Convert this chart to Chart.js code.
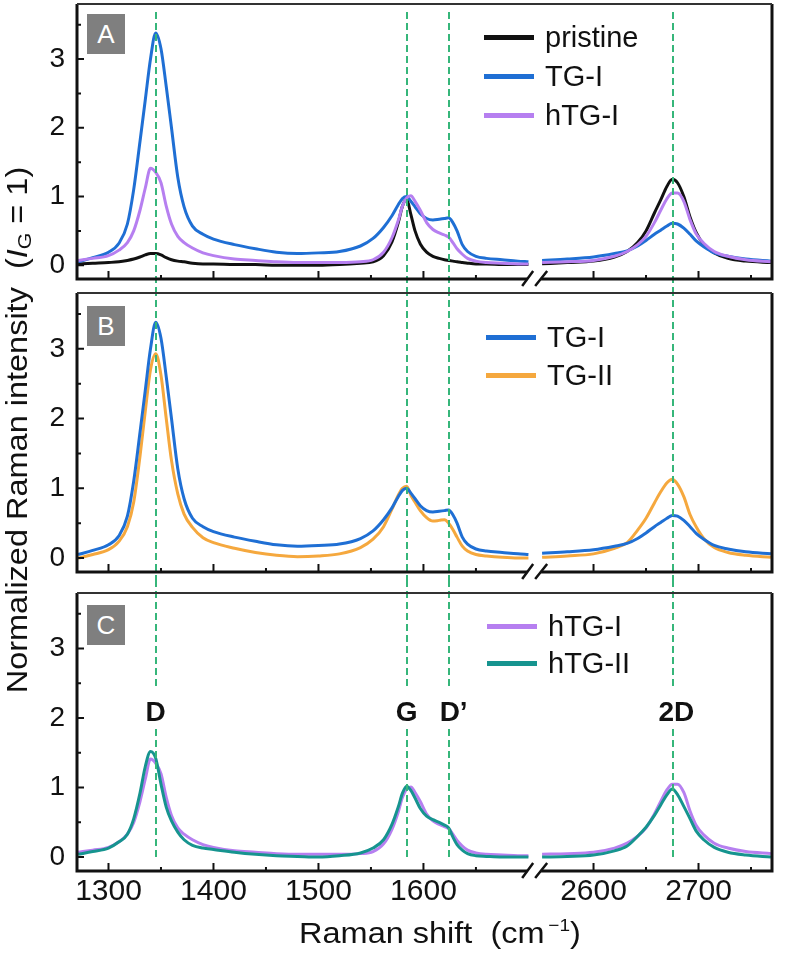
<!DOCTYPE html>
<html>
<head>
<meta charset="utf-8">
<title>Raman spectra</title>
<script src="https://cdn.jsdelivr.net/npm/chart.js@4.4.1/dist/chart.umd.min.js"></script>
<style>
  html, body { margin: 0; padding: 0; background: #fff; overflow: hidden; }
  #wrap { position: relative; width: 785px; height: 955px; font-family: "Liberation Sans", Arial, sans-serif; color: #111; overflow: hidden; }
  #wrap canvas { position: absolute; left: 0; }
  .tag { position: absolute; left: 87px; width: 38px; height: 40px; background: #7f7f7f; color: #fff;
         font-size: 26px; line-height: 40px; text-align: center; z-index: 2; }
  .key { position: absolute; height: 40px; line-height: 40px; font-size: 29px; white-space: nowrap; z-index: 2; }
  .key i { position: absolute; left: 0; top: 18px; width: 50px; height: 5px; }
  .key span { position: absolute; left: 61px; top: 0; }
  .peak { position: absolute; width: 80px; margin-left: -40px; text-align: center; font-weight: bold;
          font-size: 28px; line-height: 28px; z-index: 2; }
  #ytitle { position: absolute; left: -283px; top: 413px; width: 600px; height: 34px; line-height: 34px;
            font-size: 29px; text-align: center; white-space: nowrap; transform: rotate(-90deg) scaleX(1.12); }
  #ytitle sub { font-size: 19px; vertical-align: -4px; }
  #xtitle { position: absolute; left: 240px; top: 916px; width: 400px; font-size: 29px; text-align: center;
            white-space: nowrap; transform: scaleX(1.12); }
  #xtitle sup { font-size: 17px; vertical-align: 12px; }
</style>
</head>
<body>
<div id="wrap">
  <canvas id="chartA" width="785" height="289" style="top:0px"></canvas>
  <canvas id="chartB" width="785" height="291" style="top:289px"></canvas>
  <canvas id="chartC" width="785" height="375" style="top:580px"></canvas>
  <div id="ytitle">Normalized Raman intensity&nbsp; (<i>I</i><sub>G</sub> = 1)</div>
  <div id="xtitle">Raman shift&nbsp; (cm<sup>&thinsp;&minus;1</sup>)</div>
</div>
<script>
// Raman shift sample positions (cm-1)
const xLeft = [1271, 1285, 1300, 1310, 1318, 1324, 1330, 1335, 1340, 1345, 1350, 1355, 1360, 1366, 1372, 1380,
               1390, 1400, 1420, 1440, 1460, 1480, 1500, 1520, 1540, 1552, 1562, 1570, 1576, 1580, 1584, 1588,
               1592, 1597, 1603, 1609, 1615, 1620, 1624, 1628, 1632, 1637, 1642, 1650, 1660, 1675, 1690, 1700];
const xRight = [2551, 2575, 2600, 2620, 2632, 2642, 2650, 2658, 2664, 2670, 2675, 2680, 2686, 2692, 2698, 2705,
                2715, 2728, 2745, 2769];

// normalized intensities (I_G = 1)
const pristineLeft = [0.02, 0.03, 0.04, 0.05, 0.07, 0.09, 0.12, 0.15, 0.17, 0.17, 0.15, 0.11, 0.08, 0.06, 0.05, 0.03,
                      0.02, 0.02, 0.01, 0.01, 0.00, 0.00, 0.00, 0.01, 0.03, 0.05, 0.14, 0.34, 0.62, 0.86, 0.96, 0.74,
                      0.50, 0.31, 0.19, 0.13, 0.10, 0.08, 0.07, 0.06, 0.05, 0.04, 0.03, 0.02, 0.02, 0.01, 0.01, 0.01];
const pristineRight = [0.02, 0.04, 0.06, 0.12, 0.20, 0.33, 0.50, 0.76, 0.95, 1.15, 1.25, 1.20, 1.00, 0.70, 0.47, 0.30,
                       0.18, 0.10, 0.06, 0.04];

const tg1Left = [0.05, 0.11, 0.19, 0.32, 0.60, 1.10, 1.80, 2.40, 3.00, 3.38, 3.15, 2.60, 2.00, 1.28, 0.85, 0.57,
                 0.45, 0.38, 0.30, 0.24, 0.19, 0.17, 0.18, 0.20, 0.28, 0.39, 0.55, 0.72, 0.88, 0.97, 1.00, 0.93,
                 0.85, 0.75, 0.68, 0.66, 0.67, 0.68, 0.69, 0.62, 0.50, 0.30, 0.20, 0.13, 0.10, 0.08, 0.06, 0.05];
const tg1Right = [0.07, 0.09, 0.12, 0.17, 0.21, 0.28, 0.36, 0.45, 0.51, 0.57, 0.61, 0.60, 0.54, 0.45, 0.35, 0.27,
                  0.18, 0.13, 0.09, 0.06];

const htg1Left = [0.07, 0.10, 0.14, 0.22, 0.33, 0.50, 0.80, 1.12, 1.41, 1.35, 1.20, 0.86, 0.60, 0.42, 0.33, 0.25,
                  0.18, 0.14, 0.09, 0.07, 0.05, 0.04, 0.04, 0.04, 0.05, 0.08, 0.19, 0.40, 0.65, 0.86, 0.98, 1.01,
                  0.93, 0.80, 0.62, 0.52, 0.47, 0.44, 0.41, 0.33, 0.24, 0.16, 0.10, 0.06, 0.04, 0.03, 0.02, 0.02];
const htg1Right = [0.04, 0.05, 0.07, 0.13, 0.20, 0.30, 0.42, 0.62, 0.80, 0.97, 1.05, 1.05, 0.93, 0.66, 0.45, 0.32,
                   0.20, 0.13, 0.08, 0.05];

const tg2Left = [0.00, 0.05, 0.12, 0.24, 0.45, 0.80, 1.46, 2.10, 2.70, 2.93, 2.62, 2.00, 1.40, 0.92, 0.63, 0.44,
                 0.29, 0.22, 0.14, 0.08, 0.04, 0.02, 0.03, 0.06, 0.15, 0.27, 0.45, 0.70, 0.90, 1.00, 1.03, 0.90,
                 0.80, 0.68, 0.58, 0.53, 0.54, 0.55, 0.50, 0.41, 0.30, 0.17, 0.10, 0.05, 0.03, 0.01, 0.00, 0.00];
const tg2Right = [0.01, 0.03, 0.06, 0.14, 0.22, 0.40, 0.57, 0.79, 0.95, 1.08, 1.13, 1.06, 0.88, 0.62, 0.44, 0.28,
                  0.15, 0.08, 0.04, 0.01];

const htg2Left = [0.04, 0.08, 0.13, 0.22, 0.33, 0.55, 0.92, 1.30, 1.52, 1.42, 1.05, 0.72, 0.52, 0.36, 0.25, 0.17,
                  0.13, 0.11, 0.07, 0.04, 0.02, 0.01, 0.00, 0.02, 0.06, 0.13, 0.25, 0.47, 0.72, 0.92, 1.02, 0.96,
                  0.85, 0.70, 0.59, 0.54, 0.50, 0.46, 0.42, 0.29, 0.18, 0.10, 0.05, 0.02, 0.01, 0.00, 0.00, 0.00];
const htg2Right = [0.00, 0.01, 0.03, 0.09, 0.16, 0.30, 0.43, 0.60, 0.75, 0.90, 0.98, 0.90, 0.73, 0.55, 0.37, 0.25,
                   0.14, 0.07, 0.03, 0.00];

// band positions and tick values
const peakNames = ['D', 'G', 'D\u2019', '2D'];
const peakShifts = [1345, 1584, 1624, 2676];
const xMajor = [1300, 1400, 1500, 1600, 2600, 2700];
const xMinor = [1350, 1450, 1550, 1650, 2650, 2750];
const yMajor = [0, 1, 2, 3];
const yMinor = [0.5, 1.5, 2.5, 3.5];

const seriesData = {
  'pristine': [pristineLeft, pristineRight],
  'TG-I': [tg1Left, tg1Right],
  'hTG-I': [htg1Left, htg1Right],
  'TG-II': [tg2Left, tg2Right],
  'hTG-II': [htg2Left, htg2Right]
};
const seriesColors = {
  'pristine': '#111111',
  'TG-I': '#1f6fd4',
  'hTG-I': '#b67ff0',
  'TG-II': '#f5a83e',
  'hTG-II': '#16948f'
};

// broken axis: the 2D window is slid left so both windows share one linear scale
const BREAK_SHIFT = 838;
const BREAK_AT = 1704.5;
const toAxis = v => v > 2000 ? v - BREAK_SHIFT : v;
const fromAxis = v => v > BREAK_AT ? v + BREAK_SHIFT : v;
const FONT = '"Liberation Sans", Arial, sans-serif';

function toPoints(name) {
  const [yl, yr] = seriesData[name];
  const pts = xLeft.map((x, i) => ({ x: x, y: yl[i] }));
  pts.push({ x: BREAK_AT, y: null });
  xRight.forEach((x, i) => pts.push({ x: toAxis(x), y: yr[i] }));
  return pts;
}

const framePlugin = {
  id: 'frame',
  afterDatasetsDraw(chart) {
    const { ctx, chartArea: a, scales: { x, y } } = chart;
    const opt = chart.options.plugins.frame;
    ctx.save();

    // dashed band markers
    ctx.strokeStyle = '#36b67a';
    ctx.lineWidth = 2;
    ctx.setLineDash([7, 4]);
    peakShifts.forEach(p => {
      const px = Math.round(x.getPixelForValue(toAxis(p)));
      ctx.beginPath();
      if (opt.gap) {
        ctx.moveTo(px, opt.lineTop); ctx.lineTo(px, opt.gap[0]);
        ctx.moveTo(px, opt.gap[1]); ctx.lineTo(px, opt.lineBottom);
      } else {
        ctx.moveTo(px, opt.lineTop); ctx.lineTo(px, opt.lineBottom);
      }
      ctx.stroke();
    });
    ctx.setLineDash([]);

    // box with the axis break
    const bp = x.getPixelForValue(BREAK_AT);
    ctx.strokeStyle = '#111';
    ctx.lineWidth = 3;
    ctx.beginPath();
    ctx.moveTo(a.left, a.top); ctx.lineTo(a.left, a.bottom); ctx.lineTo(bp - 6, a.bottom);
    ctx.moveTo(bp + 8, a.bottom); ctx.lineTo(a.right, a.bottom); ctx.lineTo(a.right, a.top);
    ctx.stroke();
    ctx.strokeStyle = '#333';
    ctx.lineWidth = 2;
    ctx.beginPath(); ctx.moveTo(a.left, a.top); ctx.lineTo(a.right, a.top); ctx.stroke();

    ctx.strokeStyle = '#111';
    ctx.lineWidth = 2.5;
    ctx.beginPath();
    ctx.moveTo(bp - 11, a.bottom + 7); ctx.lineTo(bp, a.bottom - 8);
    ctx.moveTo(bp + 2, a.bottom + 7); ctx.lineTo(bp + 14, a.bottom - 8);
    ctx.stroke();

    // inward ticks
    ctx.lineWidth = 2;
    ctx.beginPath();
    xMajor.forEach(v => { const px = x.getPixelForValue(toAxis(v)); ctx.moveTo(px, a.bottom); ctx.lineTo(px, a.bottom - 8); });
    xMinor.forEach(v => { const px = x.getPixelForValue(toAxis(v)); ctx.moveTo(px, a.bottom); ctx.lineTo(px, a.bottom - 4); });
    yMajor.forEach(v => { const py = y.getPixelForValue(v); ctx.moveTo(a.left, py); ctx.lineTo(a.left + 7, py); });
    yMinor.forEach(v => { const py = y.getPixelForValue(v); ctx.moveTo(a.left, py); ctx.lineTo(a.left + 4, py); });
    ctx.stroke();
    ctx.restore();
  }
};

// keep chart.js from reserving half a label of room at the axis ends
function noEdgePadding(s) {
  s.paddingTop = 0;
  s.paddingBottom = 0;
  s.paddingLeft = 0;
  s.paddingRight = 0;
}

function makePanel(p) {
  const canvas = document.getElementById(p.id);
  return new Chart(canvas, {
    type: 'line',
    data: {
      datasets: p.names.map(name => ({
        label: name,
        data: toPoints(name),
        borderColor: seriesColors[name],
        borderWidth: 3,
        pointRadius: 0,
        fill: false,
        cubicInterpolationMode: 'monotone',
        order: p.onTop.indexOf(name)
      }))
    },
    options: {
      responsive: false,
      animation: false,
      events: [],
      layout: { padding: { top: p.padTop, bottom: p.showX ? 0 : p.padBottom, left: 0, right: 13 } },
      plugins: {
        legend: { display: false },
        tooltip: { enabled: false },
        frame: { lineTop: p.lineTop, lineBottom: p.lineBottom, gap: p.gap }
      },
      scales: {
        x: {
          type: 'linear',
          display: p.showX,
          min: 1270,
          max: 1932,
          grid: { display: false, drawTicks: false },
          border: { display: false },
          afterBuildTicks: s => { s.ticks = xMajor.map(v => ({ value: toAxis(v) })); },
          afterFit: s => { s.height = p.padBottom; noEdgePadding(s); },
          ticks: {
            font: { family: FONT, size: 30 },
            color: '#111',
            padding: 3,
            maxRotation: 0,
            autoSkip: false,
            callback: v => String(fromAxis(v))
          }
        },
        y: {
          min: -0.2,
          max: 3.8,
          grid: { display: false, drawTicks: false },
          border: { display: false },
          afterBuildTicks: s => { s.ticks = yMajor.map(v => ({ value: v })); },
          afterFit: s => { s.width = 77; noEdgePadding(s); },
          ticks: {
            font: { family: FONT, size: 28 },
            color: '#111',
            padding: 12,
            callback: v => String(v)
          }
        }
      }
    },
    plugins: [framePlugin]
  });
}

const panels = [
  { id: 'chartA', tag: 'A', padTop: 4, padBottom: 5, showX: false, tagTop: 14,
    names: ['pristine', 'TG-I', 'hTG-I'], onTop: ['hTG-I', 'TG-I', 'pristine'],
    keyLeft: 484, keyRows: [37, 76, 115], lineTop: 12, lineBottom: 289 },
  { id: 'chartB', tag: 'B', padTop: 4, padBottom: 4, showX: false, tagTop: 306,
    names: ['TG-I', 'TG-II'], onTop: ['TG-I', 'TG-II'],
    keyLeft: 486, keyRows: [337, 375], lineTop: 0, lineBottom: 291 },
  { id: 'chartC', tag: 'C', padTop: 13, padBottom: 84, showX: true, tagTop: 605,
    names: ['hTG-I', 'hTG-II'], onTop: ['hTG-II', 'hTG-I'],
    keyLeft: 487, keyRows: [626, 663], lineTop: 0, lineBottom: 277, gap: [107, 149] }
];

const wrap = document.getElementById('wrap');
const charts = panels.map(p => {
  const chart = makePanel(p);

  const tag = document.createElement('div');
  tag.className = 'tag';
  tag.style.top = p.tagTop + 'px';
  tag.textContent = p.tag;
  wrap.appendChild(tag);

  p.names.forEach((name, i) => {
    const row = document.createElement('div');
    row.className = 'key';
    row.style.left = p.keyLeft + 'px';
    row.style.top = (p.keyRows[i] - 20) + 'px';
    row.innerHTML = '<i style="background:' + seriesColors[name] + '"></i><span>' + name + '</span>';
    wrap.appendChild(row);
  });
  return chart;
});

// band labels in the bottom panel
const xs = charts[2].scales.x;
const labelNudge = [0, 0, 5, 3];
peakNames.forEach((name, i) => {
  const el = document.createElement('div');
  el.className = 'peak';
  el.style.left = (xs.getPixelForValue(toAxis(peakShifts[i])) + labelNudge[i]) + 'px';
  el.style.top = '698px';
  el.textContent = name;
  wrap.appendChild(el);
});
</script>
</body>
</html>
